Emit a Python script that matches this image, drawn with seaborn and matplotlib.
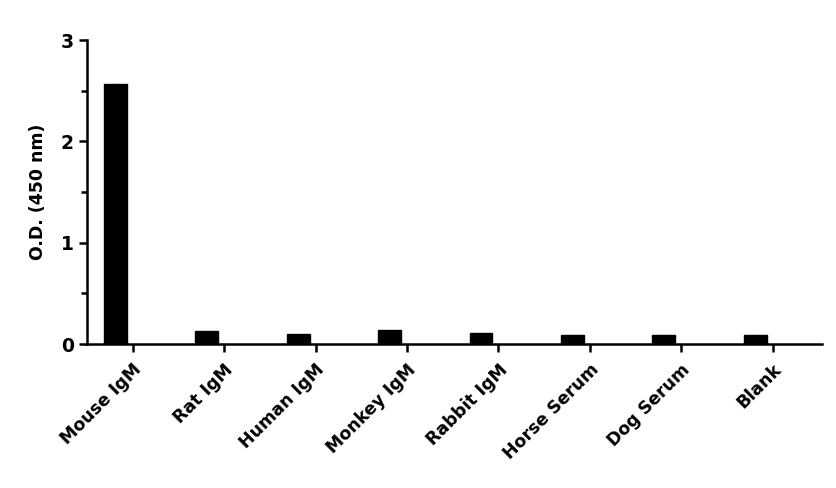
import numpy as np
import matplotlib
matplotlib.use("Agg")
import matplotlib.pyplot as plt
from matplotlib.ticker import MultipleLocator
import seaborn as sns

samples = ["Mouse IgM", "Rat IgM", "Human IgM", "Monkey IgM", "Rabbit IgM",
           "Horse Serum", "Dog Serum", "Blank"]
od_450 = [2.57, 0.13, 0.10, 0.14, 0.11, 0.09, 0.09, 0.085]

sns.set_style("ticks", {"axes.edgecolor": "black", "text.color": "black",
                        "axes.labelcolor": "black", "xtick.color": "black",
                        "ytick.color": "black"})
plt.rcParams["font.family"] = ["DejaVu Sans"]

fig = plt.figure(figsize=(8.37, 4.88), dpi=100)
ax = fig.add_axes([0.104, 0.295, 0.878, 0.623])

sns.barplot(x=samples, y=od_450, color="black", width=0.25, ax=ax,
            saturation=1, edgecolor="black")

# ticks sit a little to the right of each bar, as in the original
pos = np.arange(len(samples))
ax.set_xticks(pos + 0.19)
ax.set_xticklabels(samples, rotation=45, ha="right", rotation_mode="anchor",
                   fontsize=12.5, fontweight="bold")
ax.set_xlim(-0.31, 7.73)
ax.set_ylim(0, 3)
ax.yaxis.set_major_locator(MultipleLocator(1))
ax.yaxis.set_minor_locator(MultipleLocator(0.5))
ax.set_ylabel("O.D. (450 nm)", fontsize=12.5, fontweight="bold", labelpad=10)
for lab in ax.get_yticklabels():
    lab.set_fontsize(13.5)
    lab.set_fontweight("bold")

sns.despine(ax=ax)
for s in ["left", "bottom"]:
    ax.spines[s].set_linewidth(1.8)
ax.tick_params(axis="both", which="major", width=1.8, length=6, color="black")
ax.tick_params(axis="y", which="minor", width=1.8, length=4, color="black")
ax.tick_params(axis="x", pad=6)

fig.savefig("out.png", dpi=100)
